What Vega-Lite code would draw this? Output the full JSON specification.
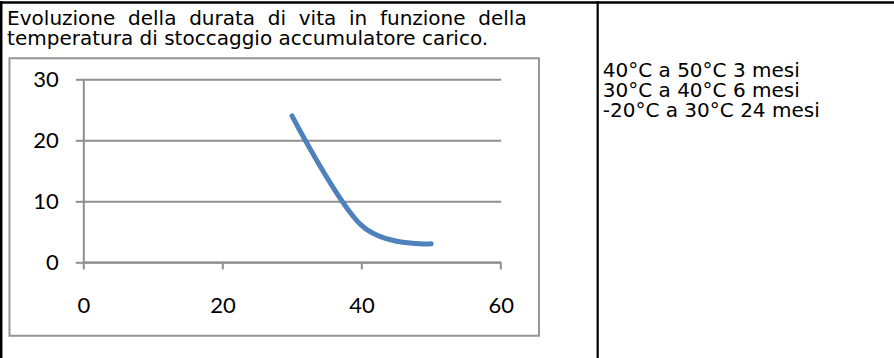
{
  "$schema": "https://vega.github.io/schema/vega-lite/v6.json",
  "autosize": "none",
  "width": 417.4,
  "height": 182.7,
  "padding": {"left": 83.3, "top": 79.3, "right": 393.3, "bottom": 96},
  "background": "white",
  "config": {"view": {"stroke": null}},
  "datasets": {
    "life": [
      {"temp": 30, "months": 24},
      {"temp": 40, "months": 6},
      {"temp": 50, "months": 3}
    ]
  },
  "layer": [
    {
      "data": {"values": [{}]},
      "mark": {"type": "rect", "fill": null, "stroke": "#959595", "strokeWidth": 2},
      "encoding": {
        "x": {"datum": -10.61, "type": "quantitative"},
        "x2": {"datum": 65.5},
        "y": {"datum": -12.1, "type": "quantitative"},
        "y2": {"datum": 33.45}
      }
    },
    {
      "data": {"name": "life"},
      "mark": {"type": "line", "interpolate": "cardinal", "color": "#4F81BD", "strokeWidth": 5, "strokeCap": "round"},
      "encoding": {
        "x": {
          "field": "temp", "type": "quantitative",
          "scale": {"domain": [0, 60], "nice": false, "zero": false},
          "axis": {
            "values": [0, 20, 40, 60], "title": null, "grid": false,
            "domainColor": "#8f8f8f", "domainWidth": 2,
            "tickColor": "#8f8f8f", "tickWidth": 2, "tickSize": 7,
            "labelFont": "Lato", "labelFontSize": 22, "labelColor": "black",
            "labelPadding": 26, "labelFlush": false, "labelOverlap": false
          }
        },
        "y": {
          "field": "months", "type": "quantitative",
          "scale": {"domain": [0, 30], "nice": false, "zero": false},
          "axis": {
            "values": [0, 10, 20, 30], "title": null, "grid": true,
            "gridColor": "#8f8f8f", "gridWidth": 2,
            "domainColor": "#8f8f8f", "domainWidth": 2,
            "tickColor": "#8f8f8f", "tickWidth": 2, "tickSize": 8,
            "labelFont": "Lato", "labelFontSize": 22, "labelColor": "black",
            "labelPadding": 17, "labelOverlap": false
          }
        }
      }
    },
    {
      "data": {"values": [{}]},
      "mark": {"type": "rule", "color": "black", "strokeWidth": 2.5},
      "encoding": {
        "x": {"datum": -12.0, "type": "quantitative"},
        "x2": {"datum": 116.7},
        "y": {"datum": 42.6, "type": "quantitative"}
      }
    },
    {
      "data": {"values": [{}]},
      "mark": {"type": "rule", "color": "black", "strokeWidth": 2.5},
      "encoding": {
        "x": {"datum": -11.8, "type": "quantitative"},
        "y": {"datum": 42.8, "type": "quantitative"},
        "y2": {"datum": -16.2}
      }
    },
    {
      "data": {"values": [{}]},
      "mark": {"type": "rule", "color": "black", "strokeWidth": 2.2},
      "encoding": {
        "x": {"datum": 73.94, "type": "quantitative"},
        "y": {"datum": 42.8, "type": "quantitative"},
        "y2": {"datum": -16.2}
      }
    },
    {
      "data": {"values": [{}]},
      "mark": {"type": "text", "align": "left", "baseline": "alphabetic", "font": "DejaVu Sans", "fontSize": 20, "lineHeight": 20, "color": "black"},
      "encoding": {
        "x": {"datum": -10.95, "type": "quantitative"},
        "y": {"datum": 38.9, "type": "quantitative"},
        "text": {"value": ["Evoluzione\u00a0 della\u00a0 durata\u00a0 di\u00a0 vita\u00a0 in\u00a0 funzione\u00a0 della", "temperatura di stoccaggio accumulatore carico."]}
      }
    },
    {
      "data": {"values": [{}]},
      "mark": {"type": "text", "align": "left", "baseline": "alphabetic", "font": "DejaVu Sans", "fontSize": 20, "lineHeight": 20, "color": "black"},
      "encoding": {
        "x": {"datum": 74.67, "type": "quantitative"},
        "y": {"datum": 30.3, "type": "quantitative"},
        "text": {"value": ["40°C a 50°C 3 mesi", "30°C a 40°C 6 mesi", "-20°C a 30°C 24 mesi"]}
      }
    }
  ]
}
